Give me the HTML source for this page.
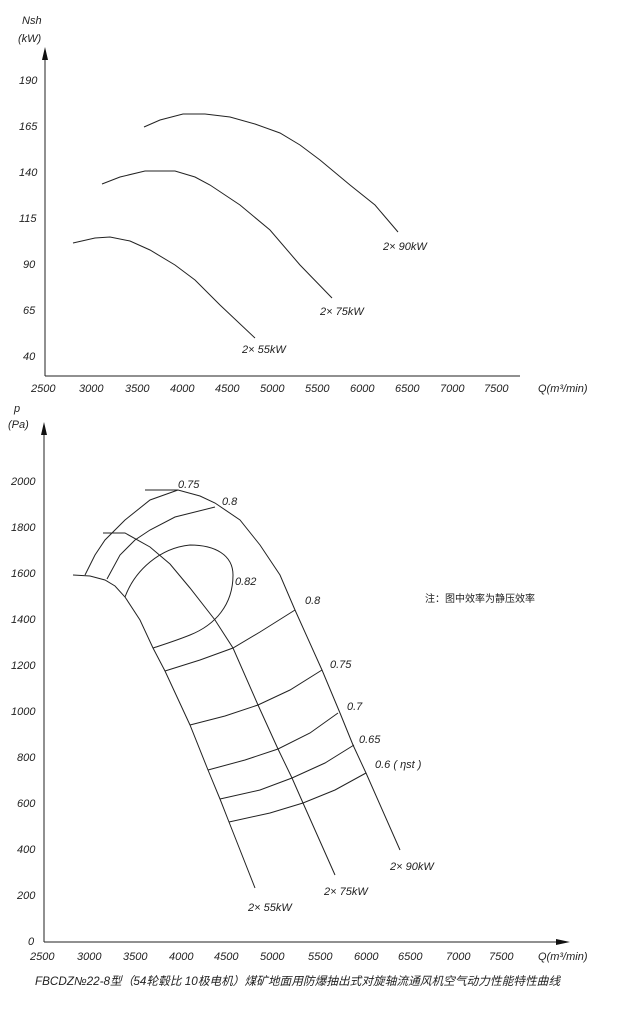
<!DOCTYPE html>
<html><head><meta charset="utf-8"><style>
html,body{margin:0;padding:0;background:#fff;}
svg text{font-family:"Liberation Sans","Noto Sans CJK SC",sans-serif;font-style:italic;fill:#222;}
</style></head><body>
<svg width="621" height="1006" viewBox="0 0 621 1006" xmlns="http://www.w3.org/2000/svg">
<g stroke="#222" stroke-width="1" fill="none">
<line x1="45" y1="55" x2="45" y2="376"/>
<line x1="45" y1="376" x2="520" y2="376"/>
<line x1="44" y1="430" x2="44" y2="942"/>
<line x1="44" y1="942" x2="562" y2="942"/>
</g>
<polygon points="45,47 42,60 48,60" fill="#111"/>
<polygon points="44,422 41,435 47,435" fill="#111"/>
<polygon points="570,942 556,939 556,945" fill="#111"/>
<g stroke="#222" stroke-width="1" id="ticks"></g>
<script>
var s='';
for(var i=0;i<=56;i++){var x=45+i*8.95;s+='<line x1="'+x+'" y1="376" x2="'+x+'" y2="'+(i%5==0?372:374)+'"/>';}
for(var i=0;i<=31;i++){var y=356-i*9.2;s+='<line x1="45" y1="'+y+'" x2="'+(i%5==0?50:48)+'" y2="'+y+'"/>';}
for(var i=0;i<=50;i++){var x=44+i*9.14;s+='<line x1="'+x+'" y1="942" x2="'+x+'" y2="'+(i%5==0?937:939)+'"/>';}
for(var i=0;i<=50;i++){var y=942-i*9.2;s+='<line x1="44" y1="'+y+'" x2="'+(i%5==0?49:47)+'" y2="'+y+'"/>';}
document.getElementById('ticks').innerHTML=s;
</script>
<g font-size="11">
<text x="22" y="24">Nsh</text><text x="18" y="42">(kW)</text>
<text x="19" y="84">190</text><text x="19" y="130">165</text><text x="19" y="176">140</text>
<text x="19" y="222">115</text><text x="23" y="268">90</text><text x="23" y="314">65</text><text x="23" y="360">40</text>
<text x="31" y="392">2500</text><text x="79" y="392">3000</text><text x="125" y="392">3500</text><text x="170" y="392">4000</text>
<text x="215" y="392">4500</text><text x="260" y="392">5000</text><text x="305" y="392">5500</text><text x="350" y="392">6000</text>
<text x="395" y="392">6500</text><text x="440" y="392">7000</text><text x="484" y="392">7500</text>
<text x="538" y="392">Q(m³/min)</text>
<text x="14" y="412">p</text><text x="8" y="428">(Pa)</text>
<text x="11" y="485">2000</text><text x="11" y="531">1800</text><text x="11" y="577">1600</text><text x="11" y="623">1400</text>
<text x="11" y="669">1200</text><text x="11" y="715">1000</text><text x="17" y="761">800</text><text x="17" y="807">600</text>
<text x="17" y="853">400</text><text x="17" y="899">200</text><text x="28" y="945">0</text>
<text x="30" y="960">2500</text><text x="77" y="960">3000</text><text x="123" y="960">3500</text><text x="169" y="960">4000</text>
<text x="214" y="960">4500</text><text x="260" y="960">5000</text><text x="308" y="960">5500</text><text x="354" y="960">6000</text>
<text x="398" y="960">6500</text><text x="446" y="960">7000</text><text x="489" y="960">7500</text>
<text x="538" y="960">Q(m³/min)</text>
<text x="383" y="250">2× 90kW</text><text x="320" y="315">2× 75kW</text><text x="242" y="353">2× 55kW</text>
<text x="390" y="870">2× 90kW</text><text x="324" y="895">2× 75kW</text><text x="248" y="911">2× 55kW</text>
<text x="178" y="488">0.75</text><text x="222" y="505">0.8</text><text x="235" y="585">0.82</text>
<text x="305" y="604">0.8</text><text x="330" y="668">0.75</text><text x="347" y="710">0.7</text>
<text x="359" y="743">0.65</text><text x="375" y="768">0.6 ( ηst )</text>
</g>
<text x="425" y="602" font-size="10" style="font-style:normal">注：图中效率为静压效率</text>
<text x="35" y="985" font-size="11.7">FBCDZ№22-8型（54轮毂比 10极电机）煤矿地面用防爆抽出式对旋轴流通风机空气动力性能特性曲线</text>
<g stroke="#222" stroke-width="1" fill="none">
<polyline points="144,127 160,120 183,114 205,114 230,117 255,124 280,133 300,145 320,160 350,185 375,205 398,232"/>
<polyline points="102,184 120,177 145,171 175,171 195,177 210,185 240,205 270,230 300,265 332,298"/>
<polyline points="73,243 95,238 110,237 130,241 150,250 175,265 195,280 220,305 255,338"/>
<polyline points="145,490 178,490 200,496 215,503 240,520 260,545 280,575 295,610 322,670 340,713 353,745 366,773 400,850"/>
<polyline points="103,533 125,533 150,547 170,564 190,588 215,620 233,648 258,705 278,749 292,778 303,803 335,875"/>
<polyline points="73,575 90,576 105,580 115,586 125,597 140,620 153,648 165,671 190,725 208,770 220,799 229,822 255,888"/>
<polyline points="85,575 95,555 105,540 125,520 150,500 178,490"/>
<polyline points="107,579 120,555 135,540 150,530 175,517 215,507"/>
<path d="M125,597 C135,570 160,548 190,545 C215,545 233,555 233,575 C233,605 215,625 190,635 C175,641 162,645 153,648"/>
<polyline points="165,671 200,660 233,648 260,632 295,610"/>
<polyline points="190,725 225,716 258,705 290,690 322,670"/>
<polyline points="208,770 245,760 278,749 310,733 338,713"/>
<polyline points="220,799 260,790 292,778 325,763 354,745"/>
<polyline points="229,822 270,813 303,803 335,790 366,773"/>
</g>
</svg>
</body></html>
